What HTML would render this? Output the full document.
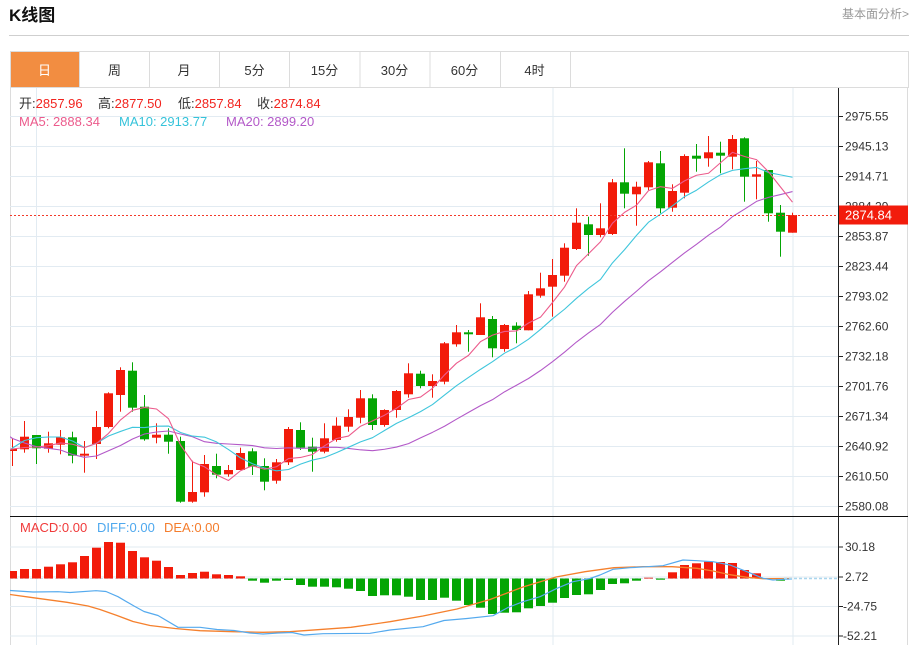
<!DOCTYPE html>
<html><head><meta charset="utf-8">
<style>
html,body{margin:0;padding:0;background:#fff;width:916px;height:645px;overflow:hidden}
svg{display:block}
text{font-family:"Liberation Sans","Noto Sans CJK SC",sans-serif}
</style></head><body>
<svg id="s" width="916" height="645" viewBox="0 0 916 645" xmlns="http://www.w3.org/2000/svg">
<defs>
<clipPath id="cm"><rect x="10" y="88" width="828.5" height="428"/></clipPath>
<clipPath id="cd"><rect x="10" y="517" width="828.5" height="128"/></clipPath>
</defs>
<rect x="0" y="0" width="916" height="645" fill="#fff"/>
<!-- header -->
<text x="9" y="21" font-size="17" font-weight="bold" fill="#111">K线图</text>
<text x="909" y="18" font-size="12" fill="#999" text-anchor="end">基本面分析&gt;</text>
<line x1="9" y1="35.5" x2="909" y2="35.5" stroke="#cfcfcf" stroke-width="1"/>
<!-- tabs -->
<rect x="10.5" y="51.5" width="898" height="36" fill="#fff" stroke="#dcdcdc"/>
<rect x="11" y="52" width="68.5" height="35" fill="#f28d41"/>
<g stroke="#dcdcdc">
<line x1="79.5" y1="52" x2="79.5" y2="87"/><line x1="149.5" y1="52" x2="149.5" y2="87"/>
<line x1="219.5" y1="52" x2="219.5" y2="87"/><line x1="289.5" y1="52" x2="289.5" y2="87"/>
<line x1="360" y1="52" x2="360" y2="87"/><line x1="430" y1="52" x2="430" y2="87"/>
<line x1="500.5" y1="52" x2="500.5" y2="87"/><line x1="570.5" y1="52" x2="570.5" y2="87"/>
</g>
<g font-size="13" text-anchor="middle" fill="#333">
<text x="44.5" y="75" fill="#fff">日</text>
<text x="114.5" y="75">周</text>
<text x="184" y="75">月</text>
<text x="254.5" y="75">5分</text>
<text x="324.5" y="75">15分</text>
<text x="394.5" y="75">30分</text>
<text x="464.5" y="75">60分</text>
<text x="534.5" y="75">4时</text>
</g>
<!-- frame -->
<line x1="10.5" y1="87" x2="10.5" y2="645" stroke="#dcdcdc"/>
<line x1="907.5" y1="87" x2="907.5" y2="645" stroke="#dcdcdc"/>
<!-- grid -->
<g id="grid" stroke="#e2ebf2" stroke-width="1"></g>
<!-- series -->
<g id="main" clip-path="url(#cm)"></g>
<g id="macd" clip-path="url(#cd)"></g>
<!-- current price dotted -->
<line x1="10" y1="215.5" x2="838" y2="215.5" stroke="#f23a2a" stroke-width="1" stroke-dasharray="2,2"/>
<line x1="784" y1="578.5" x2="838" y2="578.5" stroke="#a9d6ee" stroke-width="1.5" stroke-dasharray="3,2"/>
<!-- axis -->
<line x1="838.5" y1="88" x2="838.5" y2="645" stroke="#222"/>
<line x1="10" y1="516.5" x2="908" y2="516.5" stroke="#111"/>
<g stroke="#222" id="ticks">
<line x1="839" y1="116.5" x2="843" y2="116.5"/><line x1="839" y1="146.5" x2="843" y2="146.5"/>
<line x1="839" y1="176.5" x2="843" y2="176.5"/><line x1="839" y1="206.5" x2="843" y2="206.5"/>
<line x1="839" y1="236.5" x2="843" y2="236.5"/><line x1="839" y1="266.5" x2="843" y2="266.5"/>
<line x1="839" y1="296.5" x2="843" y2="296.5"/><line x1="839" y1="326.5" x2="843" y2="326.5"/>
<line x1="839" y1="356.5" x2="843" y2="356.5"/><line x1="839" y1="386.5" x2="843" y2="386.5"/>
<line x1="839" y1="416.5" x2="843" y2="416.5"/><line x1="839" y1="446.5" x2="843" y2="446.5"/>
<line x1="839" y1="476.5" x2="843" y2="476.5"/><line x1="839" y1="506.5" x2="843" y2="506.5"/>
<line x1="839" y1="547" x2="843" y2="547"/><line x1="839" y1="577" x2="843" y2="577"/>
<line x1="839" y1="606.5" x2="843" y2="606.5"/><line x1="839" y1="636" x2="843" y2="636"/>
</g>
<g font-size="12" fill="#333">
<text x="845" y="120.5">2975.55</text>
<text x="845" y="150.5">2945.13</text>
<text x="845" y="180.5">2914.71</text>
<text x="845" y="210.5">2884.29</text>
<text x="845" y="240.5">2853.87</text>
<text x="845" y="270.5">2823.44</text>
<text x="845" y="300.5">2793.02</text>
<text x="845" y="330.5">2762.60</text>
<text x="845" y="360.5">2732.18</text>
<text x="845" y="390.5">2701.76</text>
<text x="845" y="420.5">2671.34</text>
<text x="845" y="450.5">2640.92</text>
<text x="845" y="480.5">2610.50</text>
<text x="845" y="510.5">2580.08</text>
<text x="845" y="551">30.18</text>
<text x="845" y="581">2.72</text>
<text x="843" y="610.5">-24.75</text>
<text x="843" y="640">-52.21</text>
</g>
<rect x="839" y="205.5" width="69" height="19" fill="#f21c0c"/>
<text x="845" y="219.5" font-size="13" fill="#fff">2874.84</text>
<!-- legends -->
<g font-size="13">
<text x="19" y="108"><tspan fill="#333">开:</tspan><tspan fill="#f2231e">2857.96</tspan></text>
<text x="98" y="108"><tspan fill="#333">高:</tspan><tspan fill="#f2231e">2877.50</tspan></text>
<text x="178" y="108"><tspan fill="#333">低:</tspan><tspan fill="#f2231e">2857.84</tspan></text>
<text x="257" y="108"><tspan fill="#333">收:</tspan><tspan fill="#f2231e">2874.84</tspan></text>
<text x="19" y="126" fill="#ec5b8c">MA5: 2888.34</text>
<text x="119" y="126" fill="#35c3da">MA10: 2913.77</text>
<text x="226" y="126" fill="#b359c8">MA20: 2899.20</text>
<text x="20" y="532" fill="#f03a3a">MACD:0.00</text>
<text x="97" y="532" fill="#4ea8ee">DIFF:0.00</text>
<text x="164" y="532" fill="#f47d2d">DEA:0.00</text>
</g>
</svg>
<script>
(function(){
var NS="http://www.w3.org/2000/svg";
function el(p,n,a){var e=document.createElementNS(NS,n);for(var k in a)e.setAttribute(k,a[k]);p.appendChild(e);return e;}
var grid=document.getElementById('grid'),main=document.getElementById('main'),macd=document.getElementById('macd');
var i;
for(i=0;i<14;i++){var y=116.5+30*i;el(grid,'line',{x1:10,y1:y,x2:838,y2:y});}
[547,577,606.5,636].forEach(function(y){el(grid,'line',{x1:10,y1:y,x2:838,y2:y});});
[36.5,553,793].forEach(function(x){el(grid,'line',{x1:x,y1:88,x2:x,y2:645});});
el(grid,'line',{x1:10,y1:578.5,x2:784,y2:578.5,stroke:'#d3e3ee','stroke-dasharray':'3,2'});
var R='#f21b0a',G='#04a504';
var C=[
[449,451,438,466,1],[436.7,449.3,421,452.7,1],[435,448.3,435,464,0],[443.3,448.7,431.7,452.7,1],
[437.3,444.7,430,454.3,1],[437.3,455.7,431.7,463.3,0],[453.7,455.7,441,472.7,1],[427,444,411,459,1],
[393.3,427,392.3,428.3,1],[370,395,367.3,411.7,1],[370.7,407.7,362.3,411.7,0],[406.7,439.3,395,440.7,0],
[434.7,437.7,423.3,443.3,1],[434.7,441.7,428.3,453.7,0],[441,501.7,436.7,502.7,0],[492,501.7,460.7,502.7,1],
[464,492.3,455,496.7,1],[466,474.7,453.7,478.3,0],[470,474.3,465,476.7,1],[453,470,447.7,470,1],
[451.3,466.7,448.3,475,0],[466,481.7,458.3,490.3,0],[462.3,480.7,459,483.7,1],[429,462.3,427,465,1],
[430,447.7,422.3,450,0],[446.7,451.7,437.7,471.7,0],[438.3,451.7,423.3,453.3,1],[425.7,440,417.3,441.7,1],
[417,426.7,409.3,431.7,1],[398.3,417.7,390,423.3,1],[398.3,425,394.3,430,0],[410,425,409.3,426.7,1],
[391,410,390,417.7,1],[373.3,394.3,363.3,397.7,1],[373.7,386,370.7,388.3,0],[381,386,374.3,397.7,1],
[343.3,381.7,342,384.3,1],[332.3,344.3,325,346.7,1],[332.3,334.3,330,351.7,0],[317.3,335,303.3,335,1],
[319,348.3,316,357.3,0],[325,349,324,351.7,1],[325.7,330,322.3,343.3,0],[294.3,330.3,291,330.3,1],
[288.3,295.7,272.7,297.7,1],[275,286.7,259,316.7,1],[247.7,275.7,243.3,281.7,1],[222.7,249,208.3,250,1],
[224.3,235,216.7,255.7,0],[228.3,235,203.3,237.3,1],[182.3,234,179,235,1],[182.3,193.7,148.3,208.3,0],
[186.7,194.3,181.7,225.7,1],[162.3,187.3,161,190,1],[163.3,208.3,151,213.3,0],[191,207.7,184.3,211.7,1],
[156,192.7,154.3,198.3,1],[155.7,158.7,144,171.7,0],[152.3,158.3,136,166.7,1],[152.7,155.7,141.7,173.3,0],
[139,156.7,135,169.3,1],[138.3,176.7,137.3,201.7,0],[174.3,176.7,161,199.3,1],[170,213.3,170,221.7,0],
[212.7,231.7,205,256.7,0],[215,232.7,212.7,232.7,1]];
var N=C.length,cl=[];
for(i=0;i<N;i++){var c=C[i];cl.push(c[4]?c[0]:c[1]);}
function cx(i){return 12.5+12*i;}
function ma(n,early,start){var pts=[[10,start]];for(var i=0;i<N;i++){var v;if(i<n-1)v=early[i];else{var s=0;for(var j=i-n+1;j<=i;j++)s+=cl[j];v=s/n;}pts.push([cx(i),v]);}return pts;}
var m5=ma(5,[449,447.5,447,445.7],449.3);
var m10=ma(10,[448,440.5,437.7,437,437,441,447.5,443.3,436],450);
var m20=ma(20,[438.5,443,446.7,448.3,450,454.5,457.3,456,450.7,445.5,439,434,432,431,434,436.7,441.7,443.3,444],436.7);
// candles
for(i=0;i<N;i++){var c=C[i],col=c[4]?R:G,x=8+12*i;
el(main,'rect',{x:12+12*i,y:c[2],width:1,height:Math.max(1,c[3]-c[2]),fill:col});
el(main,'rect',{x:x,y:c[0],width:9,height:Math.max(1.2,c[1]-c[0]),fill:col});}
function pl(p,pts,col,w){el(p,'polyline',{points:pts.map(function(q){return q[0]+','+q[1];}).join(' '),fill:'none',stroke:col,'stroke-width':w,'stroke-linejoin':'round'});}
pl(main,m20,'#b359c8',1.1);pl(main,m10,'#3fc6dc',1.1);pl(main,m5,'#ec5b8c',1.1);
// macd bars
var B=[571,569,569,566.7,564.3,562.3,556,547.7,542,542.7,551,557.3,560.7,567,575,573,571.7,574.3,575,576.3,
580.7,582.7,580.7,580,585,586.7,586.7,587.3,588.7,591,596,595.3,595.3,596.7,600,600,597.7,600.7,605,607.7,
614,612.7,612.3,608.3,606,602.7,598,595,594.3,590,584,583.3,580.7,577.7,579.7,572.3,565,563.3,561.7,562,
563,570,573.3,578.5,580.7,578.5];
var base=578.5;
for(i=0;i<N;i++){var b=B[i];if(Math.abs(b-base)<0.2)continue;var up=b<base;
el(macd,'rect',{x:8+12*i,y:up?b:base,width:9,height:Math.abs(b-base),fill:up?'#f21b0a':'#04a504'});}
var DIFF=[[10,590.5],[33,592],[58,591.7],[70,592.5],[96,590.7],[106,591.5],[118,596.7],[134,606],[144,611.5],[158,615.5],[178,627.3],[200,627.3],[217,629.5],[234,630.5],[250,633],[263,634],[278,633],[292,632.5],[304,635],[323,633.7],[370,633.3],[390,630],[423,626.7],[444,620.5],[467,618.5],[493,615.7],[508,607.5],[523,601.7],[540,596.7],[557,588.3],[573,581.7],[590,578.5],[600,575],[613,569.3],[630,567.7],[647,566.7],[663,565.7],[683,560],[697,560.7],[713,561.7],[730,565],[747,571.7],[763,578.3],[773,580],[783,579.3],[792,579]];
var DEA=[[10,594.5],[33,597.7],[67,602.3],[88,606],[100,609.5],[117,615.5],[133,621.5],[150,625.5],[175,628.5],[200,630.7],[233,631.7],[263,632.3],[290,631.7],[323,629.3],[351,627.3],[390,621.7],[423,616],[457,609],[490,599.5],[523,587],[556,577],[585,571.7],[614,567.7],[643,566.7],[672,566.7],[697,568.3],[713,571],[730,574.7],[747,577.3],[763,578.7],[792,578.5]];
pl(macd,DEA,'#f5802d',1.3);pl(macd,DIFF,'#55aaee',1.2);
})();
</script>
</body></html>
